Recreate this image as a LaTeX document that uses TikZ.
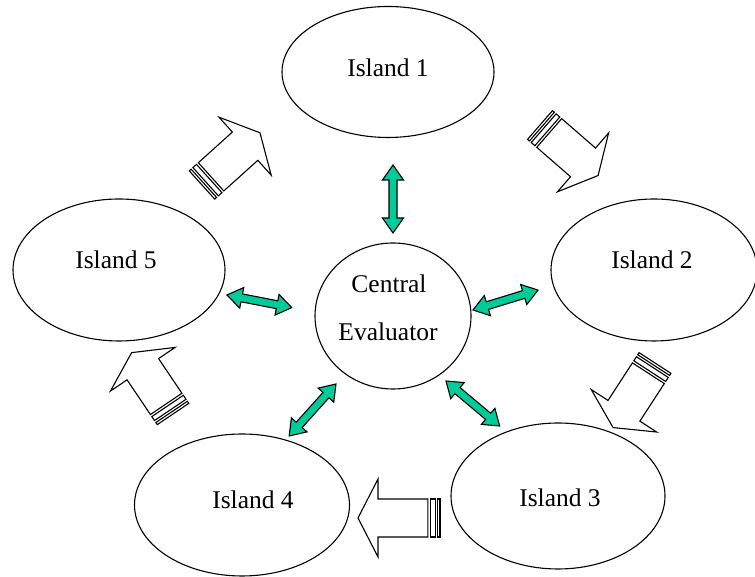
\documentclass[tikz,border=0pt]{standalone}
\usepackage{fontspec}
\setmainfont{Liberation Serif}
\usetikzlibrary{shapes.geometric}
\definecolor{linkgreen}{RGB}{0,204,153}
\tikzset{
  outline/.style={draw=black, line width=1.1pt},
  island/.style={outline, ellipse, inner sep=0pt, fill=white},
  label/.style={inner sep=0pt, font=\fontsize{25.5}{30}\selectfont},
  blockline/.style={outline, fill=white, line join=miter},
  greenline/.style={outline, fill=linkgreen, line join=miter},
  % striped block arrow: tail at the origin, pointing along +x, length #1
  stripedarrow/.pic={
    \path[blockline] (0,-19) rectangle (2.5,19);
    \path[blockline] (4.9,-19) rectangle (9.7,19);
    \path[blockline] (12.2,-19) -- ({#1-20},-19) -- ({#1-20},-39) -- (#1,0)
      -- ({#1-20},39) -- ({#1-20},19) -- (12.2,19) -- cycle;
  },
  % two-headed green block arrow from the origin along +x, length #1
  greenarrow/.pic={
    \path[greenline] (0,0) -- (15,10.5) -- (15,4) -- ({#1-15},4)
      -- ({#1-15},10.5) -- (#1,0) -- ({#1-15},-10.5) -- ({#1-15},-4)
      -- (15,-4) -- (15,-10.5) -- cycle;
  },
}
\begin{document}
\begin{tikzpicture}[x=1pt, y=1pt]
\useasboundingbox (0,0) rectangle (755,577);

% islands and the central evaluator
\node[island, minimum width=212pt, minimum height=131pt] (i1) at (388,505) {};
\node[island, minimum width=206pt, minimum height=142pt] (i2) at (654,307) {};
\node[island, minimum width=214pt, minimum height=146pt] (i3) at (558,81) {};
\node[island, minimum width=215pt, minimum height=142pt] (i4) at (242,72) {};
\node[island, minimum width=212pt, minimum height=142pt] (i5) at (119,307) {};
\node[island, minimum width=156pt, minimum height=146pt] (ce) at (393,261) {};

\node[label] (t1) at (388,509) {Island 1};
\node[label] (t2) at (652,317) {Island 2};
\node[label] (t3) at (560,79) {Island 3};
\node[label] (t4) at (253,77) {Island 4};
\node[label] (t5) at (116,317) {Island 5};
\node[label] (tc1) at (389,293) {Central};
\node[label] (tc2) at (388,245) {Evaluator};

% migration arrows between neighbouring islands
\pic[rotate=42]  (m51) at (202,392) {stripedarrow=78};
\pic[rotate=-41] (m12) at (540,452) {stripedarrow=77};
\pic[rotate=237] (m23) at (655,214) {stripedarrow=77};
\pic[rotate=180] (m34) at (440,59)  {stripedarrow=82};
\pic[rotate=124] (m45) at (173,163) {stripedarrow=74};

% exchanges with the central evaluator
\pic[rotate=90]  (g1) at (393,344) {greenarrow=68};
\pic[rotate=-11] (g5) at (227,282) {greenarrow=66};
\pic[rotate=17]  (g2) at (473,267) {greenarrow=68};
\pic[rotate=-40] (g3) at (446,196) {greenarrow=70};
\pic[rotate=228] (g4) at (336,193) {greenarrow=70};
\end{tikzpicture}
\end{document}
